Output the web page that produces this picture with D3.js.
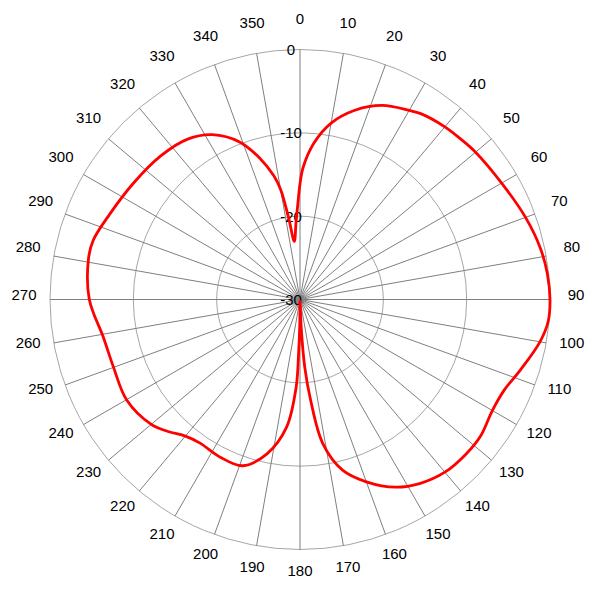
<!DOCTYPE html>
<html>
<head>
<meta charset="utf-8">
<script src="https://cdn.jsdelivr.net/npm/d3@7"></script>
<style>
  html, body { margin: 0; padding: 0; background: #fff; }
  svg { display: block; }
  text { font-family: "Liberation Sans", Arial, sans-serif; }
</style>
</head>
<body>
<svg id="chart" width="600" height="600"></svg>
<script>
// Measured pattern: azimuth (degrees) and gain (dB)
const angles = [0, 1.4, 5, 10, 16, 23, 30, 33, 40, 45, 50, 60, 70, 78, 84, 90, 95, 100, 108, 114, 120, 127, 133, 140, 147, 153, 160, 166, 171, 174, 176, 177.5, 179, 180.5, 181.5, 182.5, 186, 192, 199, 207, 215, 220, 225, 230, 240, 250, 259, 270, 281, 286, 294, 305, 316, 325, 332, 339, 344, 348, 350, 352, 354.4, 357, 359];
const gains  = [-16.1, -14.1, -11.2, -8.5, -6.4, -4.7, -3.8, -3.4, -2.95, -2.75, -2.5, -2.06, -1.2, -0.5, -0.16, 0, -0.1, -0.76, -2.28, -3.2, -3.35, -2.84, -2.78, -2.95, -3.66, -4.72, -6.72, -8.9, -12.5, -17.9, -21.9, -26.5, -29.8, -27, -23.5, -19.5, -14.6, -11.1, -8.9, -8.8, -9.0, -8.6, -7.6, -6.7, -5.96, -6.19, -5.98, -4.72, -4.15, -4.19, -4.96, -5.62, -6.0, -6.5, -7.6, -9.74, -12.3, -14.8, -16.6, -20.0, -23.0, -20.8, -18.0];
const angleTicks = d3.range(0, 360, 10);
const ringValues = [-30, -20, -10, 0];
const ringLabels = ["-30", "-20", "-10", "0"];

const cx = 300, cy = 299.5, R = 250;
const svg = d3.select("#chart");
const g = svg.append("g").attr("transform", `translate(${cx},${cy})`);

const r = d3.scaleLinear().domain([-30, 0]).range([0, R]);
const a = d3.scaleLinear().domain([0, 360]).range([0, 2 * Math.PI]);

// Rings
g.selectAll("circle.ring").data(ringValues.filter(v => v > -30)).join("circle")
  .attr("class", "ring")
  .attr("r", d => r(d))
  .attr("fill", "none")
  .attr("stroke", "#a6a6a6")
  .attr("stroke-width", 1);

// Spokes
g.selectAll("line.spoke").data(angleTicks).join("line")
  .attr("class", "spoke")
  .attr("x1", 0).attr("y1", 0)
  .attr("x2", d => R * Math.sin(a(d)))
  .attr("y2", d => -R * Math.cos(a(d)))
  .attr("stroke", "#7f7f7f")
  .attr("stroke-width", 1);

// Angle labels
g.selectAll("text.ang").data(angleTicks).join("text")
  .attr("class", "ang")
  .attr("x", d => 276 * Math.sin(a(d)))
  .attr("y", d => -276 * Math.cos(a(d)) - 5)
  .attr("text-anchor", "middle")
  .attr("dominant-baseline", "central")
  .attr("font-size", 15)
  .attr("fill", "#000")
  .text(d => d);

// Ring labels
g.selectAll("text.ringlab").data(ringValues).join("text")
  .attr("class", "ringlab")
  .attr("x", -9)
  .attr("y", d => -r(d))
  .attr("text-anchor", "middle")
  .attr("dominant-baseline", "central")
  .attr("font-size", 15)
  .attr("fill", "#000")
  .text((d, i) => ringLabels[i]);

// Pattern
const pts = angles.map((ang, i) => [a(ang), r(Math.max(-30, gains[i]))]);
const line = d3.lineRadial()
  .angle(d => d[0])
  .radius(d => d[1])
  .curve(d3.curveCatmullRomClosed.alpha(0.5));

g.append("path")
  .datum(pts)
  .attr("d", line)
  .attr("fill", "none")
  .attr("stroke", "#ff0000")
  .attr("stroke-width", 2.8)
  .attr("stroke-linejoin", "round");
</script>
</body>
</html>
